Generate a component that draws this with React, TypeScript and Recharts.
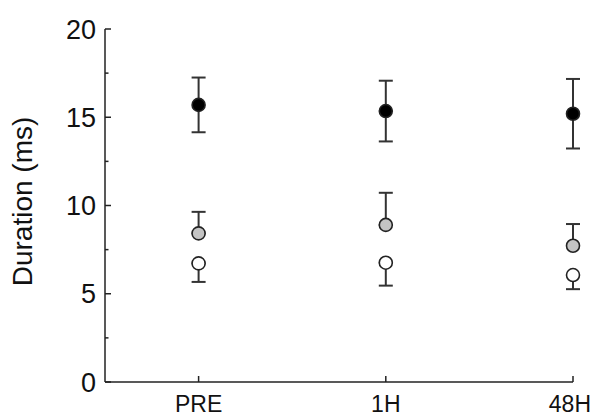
import React from 'react';
import { ScatterChart, Scatter, XAxis, YAxis, ErrorBar } from 'recharts';

const categories = ['PRE', '1H', '48H'];
const blackMean = [15.7, 15.35, 15.2];
const blackErr = [1.55, 1.72, 1.97];
const grayMean = [8.42, 8.9, 7.72];
const grayErrUp = [1.22, 1.82, 1.23];
const whiteMean = [6.72, 6.76, 6.06];
const whiteErrDown = [1.05, 1.3, 0.8];
const yMajor = [0, 5, 10, 15, 20];
const yTicks = [0, 2.5, 5, 7.5, 10, 12.5, 15, 17.5, 20];

const FONT = 'Arial, "Liberation Sans", Helvetica, sans-serif';
const AXIS = '#222';

const blackData = categories.map((c, i) => ({ x: i + 1, y: blackMean[i], err: blackErr[i] }));
const grayData = categories.map((c, i) => ({ x: i + 1, y: grayMean[i], err: [0, grayErrUp[i]] }));
const whiteData = categories.map((c, i) => ({ x: i + 1, y: whiteMean[i], err: [whiteErrDown[i], 0] }));

const dot = (fill: string) => (props: any) => {
  const { cx, cy } = props;
  if (cx == null || cy == null) return <g />;
  return <circle cx={cx} cy={cy} r={6.5} fill={fill} stroke="#222" strokeWidth={1.6} />;
};

const YTick = (props: any) => {
  const { x, y, payload } = props;
  const major = yMajor.includes(payload.value);
  return (
    <g>
      <line x1={x} x2={x + (major ? 6 : 3.5)} y1={y} y2={y} stroke={AXIS} strokeWidth={1.5} />
      {major && (
        <text x={x - 9} y={y} dy="0.36em" textAnchor="end" fontSize={27} fontFamily={FONT} fill="#111">
          {payload.value}
        </text>
      )}
    </g>
  );
};

const XTick = (props: any) => {
  const { x, y, payload } = props;
  const last = payload.value === categories.length;
  return (
    <g>
      <line x1={x} x2={x} y1={y} y2={y - 6} stroke={AXIS} strokeWidth={1.5} />
      <text
        x={last ? x + 18 : x}
        y={y + 30}
        textAnchor={last ? 'end' : 'middle'}
        fontSize={23}
        fontFamily={FONT}
        fill="#111"
      >
        {categories[payload.value - 1]}
      </text>
    </g>
  );
};

export default function App() {
  return (
    <div style={{ position: 'absolute', left: 0, top: 0, width: 592, height: 418, background: '#fff' }}>
      <ScatterChart width={592} height={418} margin={{ top: 29, right: 19, left: 0, bottom: 0 }}>
        <XAxis
          type="number"
          dataKey="x"
          domain={[0.5, 3]}
          ticks={[1, 2, 3]}
          tick={<XTick />}
          tickLine={false}
          tickSize={0}
          tickMargin={0}
          height={36}
          axisLine={{ stroke: AXIS, strokeWidth: 1.5 }}
        />
        <YAxis
          type="number"
          dataKey="y"
          domain={[0, 20]}
          ticks={yTicks}
          interval={0}
          tick={<YTick />}
          tickLine={false}
          tickSize={0}
          tickMargin={0}
          width={105}
          axisLine={{ stroke: AXIS, strokeWidth: 1.5 }}
          label={{
            value: 'Duration (ms)',
            angle: -90,
            position: 'insideLeft',
            offset: 0,
            dx: 22,
            dy: -4,
            style: { fontSize: 28, fontFamily: FONT, fill: '#111', textAnchor: 'middle' },
          }}
        />
        <Scatter data={blackData} shape={dot('#000')} isAnimationActive={false}>
          <ErrorBar dataKey="err" direction="y" width={7} stroke="#333" strokeWidth={2} isAnimationActive={false} />
        </Scatter>
        <Scatter data={grayData} shape={dot('#c4c4c4')} isAnimationActive={false}>
          <ErrorBar dataKey="err" direction="y" width={7} stroke="#333" strokeWidth={2} isAnimationActive={false} />
        </Scatter>
        <Scatter data={whiteData} shape={dot('#fff')} isAnimationActive={false}>
          <ErrorBar dataKey="err" direction="y" width={7} stroke="#333" strokeWidth={2} isAnimationActive={false} />
        </Scatter>
      </ScatterChart>
    </div>
  );
}
